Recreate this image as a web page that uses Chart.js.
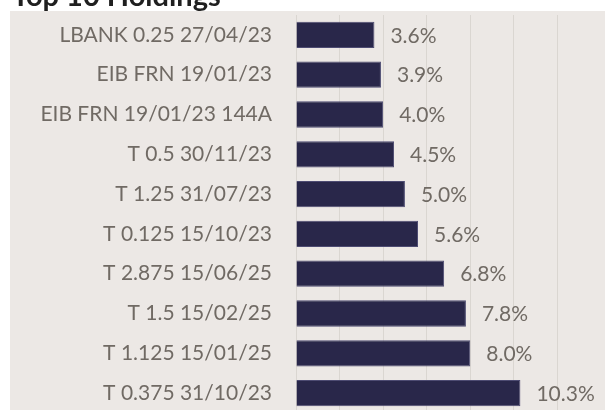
<!DOCTYPE html>
<html>
<head>
<meta charset="utf-8">
<script src="https://cdn.jsdelivr.net/npm/chart.js@4.4.1/dist/chart.umd.min.js"></script>
<style>
  html, body { margin: 0; padding: 0; background: #ffffff; overflow: hidden; width: 605px; height: 410px; }
  #title { position: absolute; left: 12px; top: -20px; font-family: Lato, sans-serif; font-weight: 700; font-size: 29px; line-height: 29px; color: #1f1f1f; white-space: nowrap; }
  #wrap { position: absolute; left: 0; top: 0; width: 605px; height: 425px; }
</style>
</head>
<body>
<div id="wrap"><canvas id="c"></canvas></div>
<div id="title">Top 10 Holdings</div>
<script>
const categories = [
  "LBANK 0.25 27/04/23",
  "EIB FRN 19/01/23",
  "EIB FRN 19/01/23 144A",
  "T 0.5 30/11/23",
  "T 1.25 31/07/23",
  "T 0.125 15/10/23",
  "T 2.875 15/06/25",
  "T 1.5 15/02/25",
  "T 1.125 15/01/25",
  "T 0.375 31/10/23"
];
const weights = [3.6, 3.9, 4.0, 4.5, 5.0, 5.6, 6.8, 7.8, 8.0, 10.3];
const axisMax = 14;
const axisStep = 2;

const textColor = '#706a64';
const fontFamily = 'Lato, sans-serif';

const panelBg = {
  id: 'panelBg',
  beforeDraw(chart) {
    const ctx = chart.ctx;
    ctx.save();
    ctx.fillStyle = '#ece8e5';
    ctx.fillRect(10, 11, chart.width - 10, chart.height - 11);
    ctx.restore();
  }
};

const valueLabels = {
  id: 'valueLabels',
  afterDatasetsDraw(chart) {
    const ctx = chart.ctx;
    const meta = chart.getDatasetMeta(0);
    ctx.save();
    ctx.fillStyle = textColor;
    ctx.font = '21px ' + fontFamily;
    ctx.textAlign = 'left';
    ctx.textBaseline = 'middle';
    meta.data.forEach((bar, i) => {
      ctx.fillText(weights[i].toFixed(1) + '%', bar.x + 16, bar.y + 1);
    });
    ctx.restore();
  }
};

new Chart(document.getElementById('c'), {
  type: 'bar',
  data: {
    labels: categories,
    datasets: [{
      data: weights,
      backgroundColor: '#29274a',
      borderColor: '#4d4b72',
      borderWidth: 1,
      barPercentage: 0.66,
      categoryPercentage: 1.0
    }]
  },
  options: {
    indexAxis: 'y',
    responsive: true,
    maintainAspectRatio: false,
    animation: false,
    layout: { padding: { top: 15, right: 4, bottom: 12, left: 0 } },
    plugins: { legend: { display: false }, tooltip: { enabled: false }, title: { display: false } },
    scales: {
      x: {
        min: 0, max: axisMax,
        ticks: { display: false, stepSize: axisStep },
        border: { display: false },
        grid: {
          drawTicks: false,
          color: (c) => (c.tick && c.tick.value === axisMax) ? 'rgba(0,0,0,0)' : '#dad6d1',
          lineWidth: 1
        },
        afterFit(scale) { scale.height = 0; scale.paddingLeft = 0; scale.paddingRight = 0; }
      },
      y: {
        border: { display: false },
        grid: { display: false, drawTicks: false },
        ticks: { color: textColor, font: { family: fontFamily, size: 21 }, padding: 24 },
        afterFit(scale) { scale.width = 296; scale.paddingTop = 0; scale.paddingBottom = 0; }
      }
    }
  },
  plugins: [panelBg, valueLabels]
});
</script>
</body>
</html>
